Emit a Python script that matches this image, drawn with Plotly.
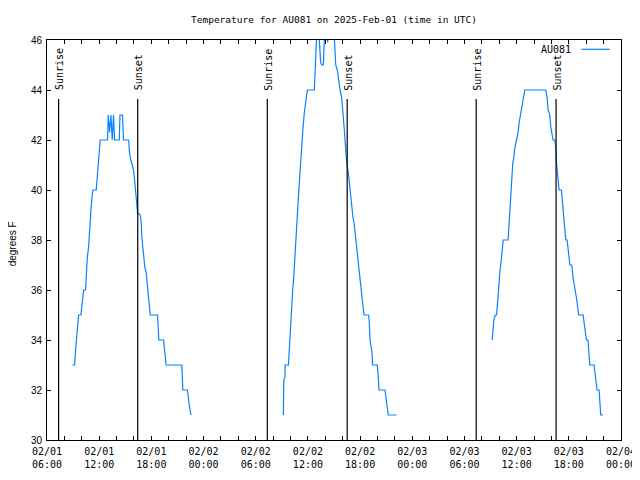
import pandas as pd
import plotly.graph_objects as go

# ---- data (hours since 2025-02-01 00:00 UTC, temperature in degrees F) ----
day1_hours = [8.94, 9.17, 9.29, 9.44, 9.63, 9.90, 9.98, 10.09, 10.21, 10.44, 10.51, 10.63, 10.78, 10.86,
              10.97, 11.05, 11.17, 11.28, 11.66, 11.74, 11.85, 11.93, 12.01, 12.12, 12.96, 13.04, 13.19,
              13.35, 13.50, 13.65, 13.77, 14.31, 14.39, 14.68, 14.80, 15.38, 15.41, 15.49, 15.64, 15.76,
              15.95, 16.07, 16.14, 16.26, 16.33, 16.41, 16.72, 16.83, 16.91, 17.02, 17.14, 17.25, 17.41,
              17.48, 17.60, 17.67, 17.79, 17.87, 18.71, 18.78, 18.86, 19.40, 19.47, 19.63, 19.70, 21.50,
              21.54, 21.62, 22.15, 22.23, 22.35, 22.46, 22.54]
day1_temps = [33, 33, 33.6, 34.3, 35, 35, 35.3, 35.7, 36, 36, 36.7, 37.3, 37.7, 38.3,
              38.7, 39.2, 39.7, 40, 40, 40.4, 40.7, 41.3, 41.7, 42, 42, 43, 42.3,
              43, 42, 43, 42, 42, 43, 43, 42, 42, 41.9, 41.5, 41.2, 41,
              40.8, 40.4, 40.1, 39.7, 39.3, 39.1, 39, 38.7, 38.1, 37.7, 37.2, 36.9, 36.7,
              36.3, 36, 35.7, 35.3, 35, 35, 34.4, 34, 34, 33.7, 33.3, 33, 33,
              32.5, 32, 32, 31.7, 31.4, 31.2, 31]

day2_hours = [33.18, 33.22, 33.36, 33.38, 33.76, 33.83, 33.95, 34.06, 34.18, 34.25, 34.37, 34.48, 34.60,
              34.71, 34.87, 34.98, 35.10, 35.21, 35.32, 35.44, 35.59, 35.75, 35.94, 36.74, 36.90, 37.10,
              37.31, 37.47, 37.59, 37.77, 37.89, 38.02, 38.15, 38.23, 38.28, 38.34, 38.50, 38.90, 39.08,
              39.20, 39.38, 39.54, 39.69, 39.88, 39.99, 40.11, 40.19, 40.26, 40.34, 40.42, 40.49, 40.65,
              40.76, 40.84, 40.95, 41.07, 41.18, 41.30, 41.41, 41.53, 41.64, 41.76, 41.87, 41.99, 42.10,
              42.22, 42.33, 42.45, 42.98, 43.06, 43.14, 43.37, 43.44, 43.98, 44.09, 44.17, 44.86, 44.97,
              45.13, 45.24, 46.20]
day2_temps = [31, 32.4, 32.5, 33, 33, 33.5, 34.3, 34.8, 35.5, 36, 36.5, 37.3, 38,
              38.7, 39.5, 40.1, 40.8, 41.5, 42, 42.5, 43.1, 43.6, 44, 44, 46, 47,
              46, 45.1, 45, 45, 46, 47, 47, 46, 45.9, 46.5, 47, 47, 46,
              45, 44.8, 44.3, 44, 43.7, 43.3, 42.9, 42.4, 42, 41.6, 41.1, 41, 40.7,
              40.3, 40, 39.6, 39.3, 38.9, 38.7, 38.3, 38, 37.6, 37.2, 36.8, 36.4, 36.1,
              35.7, 35.3, 35, 35, 34.7, 34, 33.5, 33, 33, 32.5, 32, 32, 31.7,
              31.2, 31, 31]

day3_hours = [57.19, 57.26, 57.38, 57.53, 57.69, 57.76, 57.88, 57.99, 58.07, 58.14, 58.26, 58.37, 58.45,
              59.02, 59.10, 59.22, 59.33, 59.45, 59.56, 59.68, 59.79, 59.98, 60.17, 60.29, 60.44, 60.60,
              60.75, 60.94, 63.35, 63.51, 63.62, 63.81, 63.93, 64.04, 64.19, 64.38, 64.50, 64.58, 64.65,
              64.77, 64.88, 65.15, 65.27, 65.42, 65.53, 65.65, 65.80, 65.92, 66.03, 66.11, 66.34, 66.49,
              66.61, 66.72, 66.87, 66.99, 67.14, 67.64, 67.75, 67.87, 68.02, 68.21, 68.33, 68.41, 68.90,
              68.98, 69.09, 69.25, 69.48, 69.55, 69.67, 69.94]
day3_temps = [34, 34.4, 34.8, 35, 35, 35.3, 35.7, 36.3, 36.7, 37.1, 37.3, 37.7, 38,
              38, 38.5, 39.3, 39.9, 40.5, 41.1, 41.3, 41.7, 42, 42.3, 42.7, 43, 43.2,
              43.5, 44, 44, 43.7, 43.2, 43, 42.5, 42.3, 42, 42, 41.7, 41.1, 40.8,
              40.3, 40, 40, 39.5, 38.9, 38.4, 38, 38, 37.7, 37.3, 37, 37, 36.5,
              36.3, 36, 35.7, 35.3, 35, 35, 34.7, 34.3, 34, 34, 33.5, 33, 33,
              32.7, 32.3, 32, 32, 31.5, 31, 31]

sunrise_times = ["2025-02-01 07:20", "2025-02-02 07:20", "2025-02-03 07:21"]
sunset_times = ["2025-02-01 16:26", "2025-02-02 16:31", "2025-02-03 16:32"]

station = "AU081"
title_text = "Temperature for AU081 on 2025-Feb-01 (time in UTC)"
y_title = "degrees F"
y_range = [30, 46]
x_start, x_end = "2025-02-01 06:00", "2025-02-04 00:00"

# ---- build ----
base = pd.Timestamp("2025-02-01 00:00")


def to_times(hours):
    return [(base + pd.Timedelta(hours=h)).strftime("%Y-%m-%d %H:%M:%S") for h in hours]


xs, ys = [], []
for hrs, tmp in [(day1_hours, day1_temps), (day2_hours, day2_temps), (day3_hours, day3_temps)]:
    if xs:
        xs.append(None)
        ys.append(None)
    xs.extend(to_times(hrs))
    ys.extend(tmp)

mono = "DejaVu Sans Mono"
sans = "Liberation Sans"
line_color = "#0a80ff"

fig = go.Figure()
fig.add_trace(go.Scatter(x=xs, y=ys, mode="lines", line=dict(color=line_color, width=1.2),
                         connectgaps=False, showlegend=False, name=station))

ticks = pd.date_range(x_start, x_end, freq="2h")
tickvals = [t.strftime("%Y-%m-%d %H:%M") for t in ticks]
ticktext = [t.strftime("%m/%d<br>%H:%M") if t.hour % 6 == 0 else "" for t in ticks]

shapes = []
annotations = []
for label, times in [("Sunrise", sunrise_times), ("Sunset", sunset_times)]:
    for t in times:
        shapes.append(dict(type="line", xref="x", yref="y", x0=t, x1=t, y0=30, y1=43.64,
                           line=dict(color="black", width=1.2)))
        annotations.append(dict(text=label, x=t, y=43.9, xref="x", yref="y", textangle=-90,
                                showarrow=False, xanchor="center", yanchor="bottom", xshift=1,
                                font=dict(family=mono, size=10, color="black")))

# legend (text then sample line, gnuplot style)
annotations.append(dict(text=station, xref="paper", yref="paper", x=0.9165, y=0.9768,
                        xanchor="right", yanchor="middle", showarrow=False,
                        font=dict(family=mono, size=10, color="black")))
shapes.append(dict(type="line", xref="paper", yref="paper", x0=0.9311, x1=0.9804, y0=0.9768, y1=0.9768,
                   line=dict(color=line_color, width=1.2)))

# y axis title
annotations.append(dict(text=y_title, xref="paper", yref="paper", x=-0.0604, y=0.49, textangle=-90,
                        showarrow=False, xanchor="center", yanchor="middle",
                        font=dict(family=sans, size=10, color="black")))

# page body has an 8px margin, so the figure is 632x472 and placed at (8, 8)
fig.update_layout(
    width=632, height=472,
    margin=dict(l=38.7, r=18.7, t=32, b=40, pad=0, autoexpand=False),
    paper_bgcolor="white", plot_bgcolor="white",
    title=dict(text=title_text, x=0.5, xref="paper", xanchor="center", y=1 - 12 / 472, yanchor="middle",
               font=dict(family=mono, size=9.5, color="black")),
    xaxis=dict(range=[x_start, x_end], type="date", tickmode="array", tickvals=tickvals, ticktext=ticktext,
               ticks="inside", ticklen=4, tickcolor="black", showline=True, linecolor="black", linewidth=1,
               mirror="allticks", showgrid=False, zeroline=False, automargin=False, ticklabelstandoff=2,
               tickfont=dict(family=mono, size=10, color="black")),
    yaxis=dict(range=y_range, dtick=2, tick0=30, ticks="inside", ticklen=4, tickcolor="black",
               showline=True, linecolor="black", linewidth=1, mirror="allticks", showgrid=False,
               zeroline=False, automargin=False, ticklabelstandoff=2,
               tickfont=dict(family=sans, size=10, color="black")),
    shapes=shapes, annotations=annotations,
)

fig.write_html("out.html")
